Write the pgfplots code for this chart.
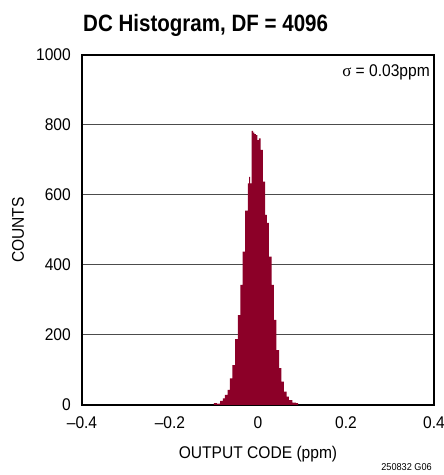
\documentclass[border=0pt]{standalone}
\usepackage{fontspec}
\setmainfont{Liberation Sans}[FakeStretch=0.92]
\newfontfamily\titlefont{Liberation Sans}[FakeStretch=0.87]
\newfontfamily\symfont{Liberation Serif}
\usepackage{pgfplots}
\pgfplotsset{compat=1.18}
\definecolor{histred}{HTML}{8C0028}
\begin{document}
\begin{tikzpicture}
\path[use as bounding box] (-82bp,-70bp) rectangle (362bp,405bp);
\begin{axis}[
    at={(0,0)}, anchor=south west,
    scale only axis, width=352bp, height=350bp,
    xmin=-0.4, xmax=0.4, ymin=0, ymax=1000,
    xtick={-0.4,-0.2,0,0.2,0.4},
    xticklabels={–0.4,–0.2,0,0.2,0.4},
    ytick={0,200,400,600,800,1000},
    yticklabels={0,200,400,600,800,1000},
    major tick length=0pt,
    ymajorgrids, grid style={black!70, line width=1bp},
    axis line style={black, line width=1.3bp},
    ticklabel style={font=\fontsize{17}{20}\selectfont, inner sep=0pt},
    xticklabel style={anchor=base, yshift=-24bp},
    yticklabel style={anchor=east, xshift=-11bp},
    label style={font=\fontsize{17}{20}\selectfont},
    xlabel={OUTPUT CODE (ppm)},
    xlabel style={at={(axis description cs:0.5,0)}, anchor=base, yshift=-53bp, inner sep=0pt},
    ylabel={COUNTS},
    ylabel style={at={(axis description cs:0,0.5)}, anchor=center, yshift=64bp, inner sep=0pt},
]
\addplot[ybar interval, fill=histred, draw=none] coordinates {
    (-0.100,5) (-0.093,3) (-0.090,4) (-0.086,12) (-0.080,19) (-0.075,29)
    (-0.069,43) (-0.064,76) (-0.058,114) (-0.052,188) (-0.046,257)
    (-0.040,343) (-0.035,438) (-0.029,555) (-0.023,633) (-0.020,652)
    (-0.018,633) (-0.0145,783) (-0.011,778) (-0.008,774) (-0.005,771)
    (-0.0015,757) (0.002,762) (0.006,729) (0.011,638) (0.016,543)
    (0.020,520) (0.025,424) (0.031,343) (0.036,243) (0.042,157)
    (0.048,105) (0.053,67) (0.059,38) (0.065,24) (0.070,14)
    (0.078,7) (0.086,5) (0.091,0)
};
\end{axis}
\node[anchor=base west, inner sep=0pt, font=\titlefont\bfseries\fontsize{23.7}{28}\selectfont]
    at (1bp,373bp) {DC Histogram, DF = 4096};
\node[anchor=base east, inner sep=0pt, font=\fontsize{17}{20}\selectfont]
    at (348bp,328bp) {{\symfont σ} = 0.03ppm};
\node[anchor=base east, inner sep=0pt, font=\fontsize{10}{12}\selectfont]
    at (350bp,-65bp) {250832 G06};
\end{tikzpicture}
\end{document}
